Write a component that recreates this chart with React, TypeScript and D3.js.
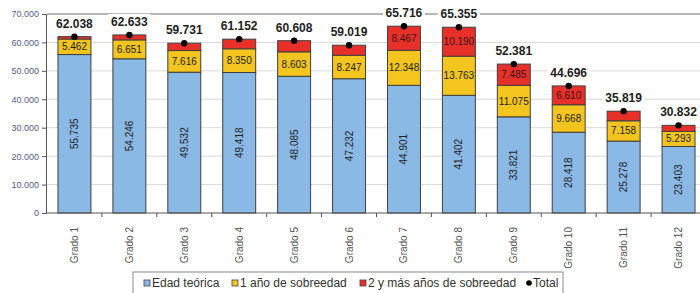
import { useEffect, useRef } from "react";
import * as d3 from "d3";

const grades = [
  "Grado 1", "Grado 2", "Grado 3", "Grado 4", "Grado 5", "Grado 6",
  "Grado 7", "Grado 8", "Grado 9", "Grado 10", "Grado 11", "Grado 12",
];
const edadTeorica = [55735, 54246, 49532, 49418, 48085, 47232, 44901, 41402, 33821, 28418, 25278, 23403];
const unAnio = [5462, 6651, 7616, 8350, 8603, 8247, 12348, 13763, 11075, 9668, 7158, 5293];
const dosOMas = [841, 1736, 2583, 3384, 3920, 3540, 8467, 10190, 7485, 6610, 3383, 2136];
const totals = [62038, 62633, 59731, 61152, 60608, 59019, 65716, 65355, 52381, 44696, 35819, 30832];
const yTicks = [0, 10000, 20000, 30000, 40000, 50000, 60000, 70000];

const seriesNames = ["Edad teórica", "1 año de sobreedad", "2 y más años de sobreedad"];
const seriesColors = ["#8ab9e6", "#f3c51e", "#e8302a"];

const esLocale = d3.formatLocale({
  decimal: ",",
  thousands: ".",
  grouping: [3],
  currency: ["", ""],
});
const fmt = esLocale.format(",d");

export default function App() {
  const svgRef = useRef<SVGSVGElement>(null);

  useEffect(() => {
    const width = 700;
    const height = 293;
    const plot = { left: 47, right: 706, top: 14, bottom: 213 };
    const font = "'Liberation Sans', Arial, sans-serif";

    const svg = d3.select(svgRef.current);
    svg.selectAll("*").remove();
    svg.attr("width", width).attr("height", height).style("font-family", font);

    svg.append("rect").attr("width", width).attr("height", height).attr("fill", "#fff");

    const x = d3
      .scaleBand<string>()
      .domain(grades)
      .range([plot.left, plot.right])
      .paddingInner(0.4)
      .paddingOuter(0.2);
    const y = d3.scaleLinear().domain([0, 70000]).range([plot.bottom, plot.top]);

    // gridlines
    svg
      .append("g")
      .selectAll("line")
      .data(yTicks.slice(1))
      .enter()
      .append("line")
      .attr("x1", plot.left)
      .attr("x2", width)
      .attr("y1", (d) => y(d))
      .attr("y2", (d) => y(d))
      .attr("stroke", (d) => (d === 70000 ? "#b8b8b8" : "#dadada"))
      .attr("stroke-width", (d) => (d === 70000 ? 2 : 1));

    // stacked bars
    const rows = grades.map((g, i) => ({
      grade: g,
      a: edadTeorica[i],
      b: unAnio[i],
      c: dosOMas[i],
    }));
    const stack = d3.stack<any>().keys(["a", "b", "c"])(rows);

    stack.forEach((layer, li) => {
      svg
        .append("g")
        .selectAll("rect")
        .data(layer)
        .enter()
        .append("rect")
        .attr("x", (d) => x(d.data.grade)!)
        .attr("width", x.bandwidth())
        .attr("y", (d) => y(d[1]))
        .attr("height", (d) => y(d[0]) - y(d[1]))
        .attr("fill", seriesColors[li])
        .attr("stroke", "#3f3f3f")
        .attr("stroke-width", 1);
    });

    // segment labels
    const labels = svg.append("g").attr("font-size", 10).attr("fill", "#222");
    stack[0].forEach((d) => {
      const cx = x(d.data.grade)! + x.bandwidth() / 2;
      const cy = (y(d[0]) + y(d[1])) / 2;
      labels
        .append("text")
        .attr("transform", `translate(${cx + 3.5},${cy}) rotate(-90)`)
        .attr("text-anchor", "middle")
        .text(fmt(d[1] - d[0]));
    });
    stack[1].forEach((d) => {
      const cx = x(d.data.grade)! + x.bandwidth() / 2;
      const cy = (y(d[0]) + y(d[1])) / 2;
      labels
        .append("text")
        .attr("x", cx)
        .attr("y", cy + 3.5)
        .attr("text-anchor", "middle")
        .text(fmt(d[1] - d[0]));
    });
    stack[2].forEach((d) => {
      if (d[1] - d[0] < 6000) return;
      const cx = x(d.data.grade)! + x.bandwidth() / 2;
      const cy = (y(d[0]) + y(d[1])) / 2;
      labels
        .append("text")
        .attr("x", cx)
        .attr("y", cy + 3.5)
        .attr("text-anchor", "middle")
        .attr("fill", "#3a1010")
        .text(fmt(d[1] - d[0]));
    });

    // totals
    const tot = svg.append("g");
    grades.forEach((g, i) => {
      const cx = x(g)! + x.bandwidth() / 2;
      tot
        .append("rect")
        .attr("x", cx - 21)
        .attr("y", y(totals[i]) - 21)
        .attr("width", 42)
        .attr("height", 15)
        .attr("fill", "#fff");
      tot
        .append("circle")
        .attr("cx", cx)
        .attr("cy", y(totals[i]))
        .attr("r", 3.2)
        .attr("fill", "#000");
      tot
        .append("text")
        .attr("x", cx)
        .attr("y", y(totals[i]) - 9)
        .attr("text-anchor", "middle")
        .attr("font-size", 12)
        .attr("font-weight", "bold")
        .attr("fill", "#1e1e1e")
        .text(fmt(totals[i]));
    });

    // y axis
    const yAxis = svg
      .append("g")
      .attr("transform", `translate(${plot.left - 1},0)`)
      .call(d3.axisLeft(y).tickValues(yTicks).tickFormat((d) => fmt(d as number)).tickSize(4).tickPadding(3));
    yAxis.selectAll("text").attr("fill", "#5c5c8c").attr("font-size", 9).attr("font-family", font);
    yAxis.selectAll(".domain, .tick line").attr("stroke", "#555");

    // x axis
    const xAxisG = svg.append("g");
    xAxisG
      .append("line")
      .attr("x1", plot.left - 1)
      .attr("x2", width)
      .attr("y1", plot.bottom)
      .attr("y2", plot.bottom)
      .attr("stroke", "#555");
    const bounds = grades.slice(1).map((g) => x(g)! - (x.step() - x.bandwidth()) / 2);
    xAxisG
      .selectAll("line.tk")
      .data(bounds)
      .enter()
      .append("line")
      .attr("class", "tk")
      .attr("x1", (d) => d)
      .attr("x2", (d) => d)
      .attr("y1", plot.bottom)
      .attr("y2", plot.bottom + 4)
      .attr("stroke", "#555");
    xAxisG
      .selectAll("text")
      .data(grades)
      .enter()
      .append("text")
      .attr("transform", (d) => `translate(${x(d)! + x.bandwidth() / 2 + 3.5},${plot.bottom + 14}) rotate(-90)`)
      .attr("text-anchor", "end")
      .attr("font-size", 10)
      .attr("fill", "#555")
      .text((d) => d);

    // legend
    const lg = svg.append("g").attr("font-size", 12).attr("fill", "#333");
    lg.append("rect")
      .attr("x", 133)
      .attr("y", 272)
      .attr("width", 430)
      .attr("height", 30)
      .attr("fill", "#fff")
      .attr("stroke", "#8a8a8a");
    const itemX = [144, 232, 360];
    seriesNames.forEach((name, i) => {
      lg.append("rect")
        .attr("x", itemX[i])
        .attr("y", 280)
        .attr("width", 6)
        .attr("height", 6)
        .attr("fill", seriesColors[i])
        .attr("stroke", "#444")
        .attr("stroke-width", 0.8);
      lg.append("text")
        .attr("x", itemX[i] + 8)
        .attr("y", 287)
        .text(name);
    });
    lg.append("circle").attr("cx", 529).attr("cy", 283).attr("r", 2.8).attr("fill", "#000");
    lg.append("text").attr("x", 533).attr("y", 287).text("Total");
  }, []);

  return (
    <svg ref={svgRef} style={{ position: "absolute", left: 0, top: 0, display: "block" }} />
  );
}
